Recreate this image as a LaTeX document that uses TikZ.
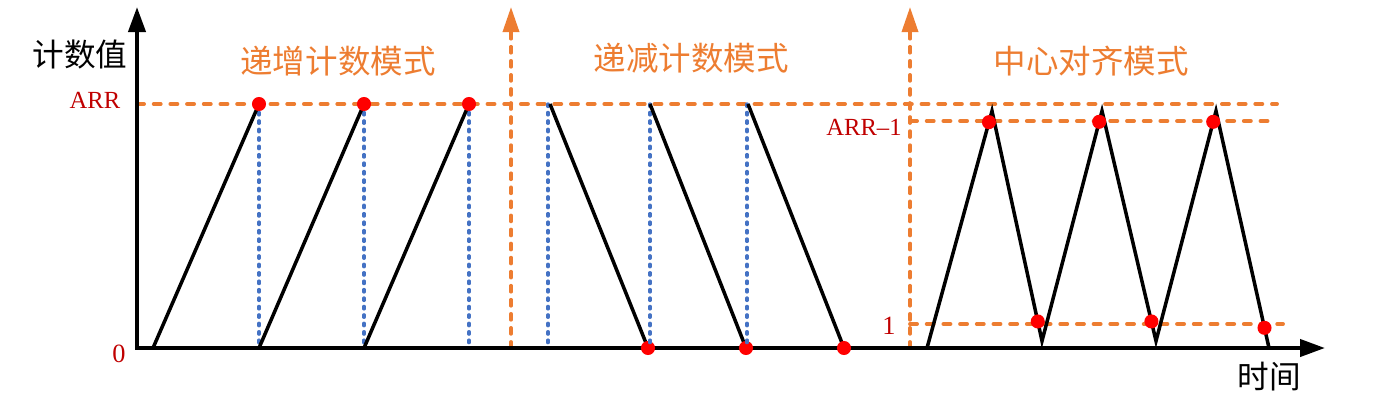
\documentclass[tikz,border=0pt]{standalone}
\usepackage{fontspec}
\setmainfont{Liberation Serif}
\newfontfamily\cjk{Noto Sans CJK SC}
\usetikzlibrary{arrows.meta,calc}
\definecolor{cmode}{HTML}{ED7D31}
\definecolor{cstep}{HTML}{4472C4}
\definecolor{cdot}{HTML}{FF0000}
\definecolor{clabel}{HTML}{C00000}

\begin{document}
\begin{tikzpicture}[
    x=0.02cm, y=-0.02cm,
    axis/.style={line width=2.3pt, {Triangle[length=5mm,width=3.4mm]}-{Triangle[length=5mm,width=3.4mm]}},
    modeaxis/.style={draw=cmode, line width=2pt, line cap=round, dash pattern=on 3.5pt off 4.5pt,
                     -{Triangle[length=5mm,width=3.2mm,fill=cmode]}},
    level/.style={draw=cmode, line width=2.2pt, line cap=round, dash pattern=on 4pt off 5.5pt},
    reload/.style={draw=cstep, line width=1.9pt, line cap=round, dash pattern=on 1.4pt off 3.4pt},
    count/.style={line width=2pt},
    hit/.style={circle, fill=cdot, inner sep=0pt, minimum size=8pt},
    val/.style={text=clabel, font=\fontsize{14}{14}\selectfont},
    num/.style={text=clabel, font=\fontsize{15}{15}\selectfont},
    title/.style={text=cmode, font=\cjk\fontsize{18.5}{18.5}\selectfont},
    lbl/.style={font=\cjk\fontsize{18}{18}\selectfont}
]
\useasboundingbox (0,0) rectangle (1399,400);

% axes and mode boundaries
\coordinate (O) at (137,348);
\coordinate (ytip) at (137,7);
\coordinate (xtip) at (1325,348);
\coordinate (m1) at (511,348);
\coordinate (m1tip) at (511,7);
\coordinate (m2) at (910,348);
\coordinate (m2tip) at (910,7);
\coordinate (arrL) at (137,104);
\coordinate (arrR) at (1277,104);
\coordinate (arrmL) at (910,121);
\coordinate (arrmR) at (1270,121);
\coordinate (oneL) at (910,324);
\coordinate (oneR) at (1283,324);

\draw[level] (arrL) -- (arrR);
\draw[level] (arrmL) -- (arrmR);
\draw[level] (oneL) -- (oneR);
\draw[modeaxis] (m1) -- (m1tip);
\draw[modeaxis] (m2) -- (m2tip);
\draw[axis] (ytip) -- (O) -- (xtip);

% labels
\node[lbl] (ylabel) at (80,55) {计数值};
\node[lbl] (xlabel) at (1269,377) {时间};
\node[val] (arr) at (95,100) {ARR};
\node[val] (arrm) at (864,127) {ARR\textendash1};
\node[num] (zero) at (119,354) {0};
\node[num] (one) at (889,326) {1};
\node[title] (up) at (338,61) {递增计数模式};
\node[title] (down) at (691,58) {递减计数模式};
\node[title] (center) at (1091,61) {中心对齐模式};

% up counting
\foreach \s/\t [count=\i] in {153/259, 259/364, 364/469} {
  \coordinate (us\i) at (\s,348);
  \coordinate (ut\i) at (\t,104);
  \coordinate (ub\i) at (\t,348);
  \draw[reload] (ut\i) -- (ub\i);
  \draw[count] (us\i) -- (ut\i);
  \node[hit] (uhit\i) at (ut\i) {};
}

% down counting
\foreach \t/\b/\r [count=\i] in {550/648/548, 650/746/650, 748/844/747} {
  \coordinate (dr\i) at (\r,104);
  \coordinate (drb\i) at (\r,348);
  \coordinate (dt\i) at (\t,104);
  \coordinate (db\i) at (\b,348);
  \draw[reload] (dr\i) -- (drb\i);
  \draw[count] (dt\i) -- (db\i);
  \node[hit] (dhit\i) at (db\i) {};
}

% center aligned
\coordinate (v0) at (927,348);
\coordinate (pk1) at (992,111);
\coordinate (v1) at (1042,341);
\coordinate (pk2) at (1102,111);
\coordinate (v2) at (1156,341);
\coordinate (pk3) at (1216,111);
\coordinate (v3) at (1269,348);
\draw[count] (v0) -- (pk1) -- (v1) -- (pk2) -- (v2) -- (pk3) -- (v3);
\foreach \i/\j in {1/0, 2/1, 3/2} {
  \node[hit] (ctop\i) at ($(v\j)!0.953!(pk\i)$) {};
  \node[hit] (cbot\i) at ($(pk\i)!0.915!(v\i)$) {};
}
\end{tikzpicture}
\end{document}
